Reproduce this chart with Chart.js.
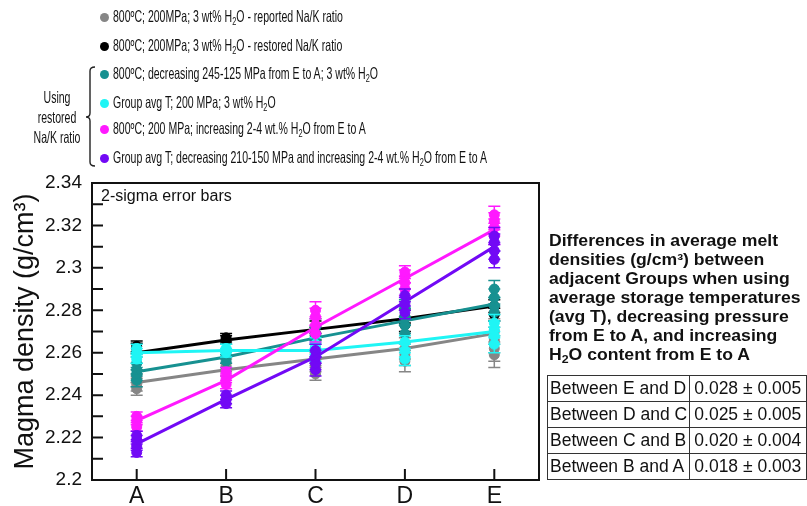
<!DOCTYPE html>
<html>
<head>
<meta charset="utf-8">
<script src="https://cdn.jsdelivr.net/npm/chart.js@4.4.1/dist/chart.umd.min.js"></script>
<style>
  html, body { margin: 0; padding: 0; background: #fff; }
  #wrap { position: relative; width: 807px; height: 506px; overflow: hidden; font-family: "Liberation Sans", Arial, sans-serif; color: #111; }
  #chart { position: absolute; left: 0; top: 0; }
  .lg-row { position: absolute; left: 100px; height: 20px; line-height: 20px; white-space: nowrap; font-size: 16.5px; }
  .lg-dot { display: inline-block; width: 9px; height: 9px; border-radius: 50%; margin-right: 4px; vertical-align: 0px; }
  .lg-text { display: inline-block; transform-origin: left center; }
  .lg-row sub, .note sub { font-size: 0.7em; vertical-align: -0.3em; line-height: 0; }
  .bracket-text { position: absolute; left: 12px; top: 87px; width: 90px; text-align: center; line-height: 20px; font-size: 16.5px; }
  .sigma { position: absolute; left: 101px; top: 187px; font-size: 16px; }
  .note { position: absolute; left: 549px; top: 231px; font-weight: bold; font-size: 16px; line-height: 19px;
          white-space: nowrap; transform-origin: left top; }
  .probe { position: absolute; visibility: hidden; white-space: nowrap; }
  table { position: absolute; left: 547px; top: 375px; border-collapse: collapse; font-size: 17.5px; }
  td { border: 1px solid #333; height: 25px; padding: 0 2px; white-space: nowrap; }
  td:first-child { width: 140px; }
  td:last-child { padding-left: 4px; width: 160px; }
</style>
</head>
<body>
<div id="wrap">
  <canvas id="chart" width="807" height="506"></canvas>
  <div id="legend"></div>
  <svg style="position:absolute;left:0;top:0" width="110" height="180">
    <path d="M95 67 Q90 67 90 71 L90 113 Q90 117 86 117 Q90 117 90 121 L90 162 Q90 166 95 166" fill="none" stroke="#222" stroke-width="1.4"/>
  </svg>
  <div class="bracket-text" id="bracketText">Using<br>restored<br>Na/K ratio</div>
  <div class="sigma">2-sigma error bars</div>
  <div class="note" id="note">Differences in average melt<br>densities (g/cm³) between<br>adjacent Groups when using<br>average storage temperatures<br>(avg T), decreasing pressure<br>from E to A, and increasing<br>H<sub>2</sub>O content from E to A</div>
  <table id="diffs"></table>
</div>
<script>
const groups = ['A', 'B', 'C', 'D', 'E'];
const yTickLabels = [2.2, 2.22, 2.24, 2.26, 2.28, 2.3, 2.32, 2.34];

const seriesNames = [
  '800ºC; 200MPa; 3 wt% H<sub>2</sub>O - reported Na/K ratio',
  '800ºC; 200MPa; 3 wt% H<sub>2</sub>O - restored Na/K ratio',
  '800ºC; decreasing 245-125 MPa from E to A; 3 wt% H<sub>2</sub>O',
  'Group avg T; 200 MPa; 3 wt% H<sub>2</sub>O',
  '800ºC; 200 MPa; increasing 2-4 wt.% H<sub>2</sub>O from E to A',
  'Group avg T; decreasing 210-150 MPa and increasing 2-4 wt.% H<sub>2</sub>O from E to A'
];
const seriesColors = ['#868686', '#000000', '#179191', '#1ff5f5', '#ff19ff', '#7209f5'];

// trend lines through the group averages
const grayLine    = [2.246, 2.252, 2.257, 2.262, 2.269];
const blackLine   = [2.260, 2.266, 2.271, 2.276, 2.282];
const tealLine    = [2.251, 2.258, 2.267, 2.275, 2.283];
const cyanLine    = [2.260, 2.261, 2.261, 2.265, 2.270];
const magentaLine = [2.228, 2.247, 2.272, 2.295, 2.318];
const purpleLine  = [2.217, 2.238, 2.258, 2.284, 2.310];

// individual melt densities per group
const graySamples    = [[2.243, 2.245, 2.247, 2.249], [2.252, 2.254], [2.250, 2.254, 2.257], [2.256, 2.259, 2.262], [2.259, 2.262, 2.266, 2.270]];
const blackSamples   = [[2.262, 2.263], [2.266, 2.267], [2.269, 2.272], [2.273, 2.277], [2.278, 2.282]];
const tealSamples    = [[2.247, 2.250, 2.252, 2.255], [2.256, 2.258, 2.261], [2.262, 2.265, 2.268, 2.272], [2.269, 2.273, 2.277, 2.281], [2.279, 2.282, 2.286, 2.290]];
const cyanSamples    = [[2.257, 2.260, 2.262], [2.260, 2.262], [2.259, 2.262, 2.264], [2.257, 2.261, 2.265], [2.264, 2.268, 2.271, 2.274]];
const magentaSamples = [[2.225, 2.228, 2.230], [2.245, 2.248, 2.251], [2.269, 2.273, 2.277, 2.280], [2.290, 2.293, 2.296, 2.298], [2.315, 2.319, 2.322, 2.325]];
const purpleSamples  = [[2.213, 2.216, 2.219, 2.221], [2.236, 2.238, 2.240], [2.252, 2.255, 2.258, 2.261], [2.279, 2.283, 2.287], [2.304, 2.308, 2.312, 2.315]];

// 2-sigma per group
const grayErr    = [0.003, 0.003, 0.003, 0.005, 0.006];
const blackErr   = [0.0025, 0.002, 0.003, 0.003, 0.003];
const tealErr    = [0.003, 0.003, 0.004, 0.004, 0.004];
const cyanErr    = [0.002, 0.002, 0.003, 0.003, 0.004];
const magentaErr = [0.002, 0.002, 0.004, 0.003, 0.004];
const purpleErr  = [0.002, 0.002, 0.003, 0.003, 0.004];

const diffLabels = ['Between E and D', 'Between D and C', 'Between C and B', 'Between B and A'];
const diffValues = ['0.028 ± 0.005', '0.025 ± 0.005', '0.020 ± 0.004', '0.018 ± 0.003'];

const wrap = document.getElementById('wrap');
function textWidth(text, css) {
  const s = document.createElement('span');
  s.className = 'probe';
  s.style.cssText = css;
  s.textContent = text;
  wrap.appendChild(s);
  const w = s.getBoundingClientRect().width;
  s.remove();
  return w;
}

// legend, set in a condensed face
const legendTops = [6, 35, 63, 92, 118, 147];
document.getElementById('legend').innerHTML = seriesNames.map((n, i) =>
  `<div class="lg-row" style="top:${legendTops[i]}px"><span class="lg-dot" style="background:${seriesColors[i]}"></span><span class="lg-text">${n}</span></div>`
).join('');
const texts = [...document.querySelectorAll('.lg-text')];
const squeeze = 374 / texts[texts.length - 1].getBoundingClientRect().width;
texts.forEach(t => { t.style.transform = `scaleX(${squeeze})`; });
document.getElementById('bracketText').style.transform = `scaleX(${squeeze})`;

// bold note is set a little wide
const noteW = textWidth('Differences in average melt', 'font-weight:bold;font-size:16px');
document.getElementById('note').style.transform = `scaleX(${229 / noteW})`;

// differences table
document.getElementById('diffs').innerHTML = diffLabels.map((l, i) =>
  `<tr><td>${l}</td><td>${diffValues[i]}</td></tr>`).join('');

const lines = [grayLine, blackLine, tealLine, cyanLine, magentaLine, purpleLine];
const samples = [graySamples, blackSamples, tealSamples, cyanSamples, magentaSamples, purpleSamples];
const errs = [grayErr, blackErr, tealErr, cyanErr, magentaErr, purpleErr];

const datasets = [];
lines.forEach((line, s) => {
  const color = seriesColors[s];
  const base = (lines.length - s) * 2; // gray at the bottom, purple on top
  datasets.push({
    type: 'line',
    data: samples[s].flatMap((vals, i) => vals.map(v => ({ x: groups[i], y: v }))),
    errors: samples[s].flatMap((vals, i) => vals.map(() => errs[s][i])),
    showLine: false,
    pointRadius: 5,
    pointBackgroundColor: color,
    pointBorderColor: color,
    order: base + 1
  });
  datasets.push({
    type: 'line',
    data: line,
    borderColor: color,
    borderWidth: 3,
    pointRadius: 0,
    order: base
  });
});

const errorBars = {
  id: 'errorBars',
  beforeDatasetDraw(chart, args) {
    const ds = chart.data.datasets[args.index];
    if (!ds.errors) return;
    const ctx = chart.ctx, y = chart.scales.y;
    ctx.save();
    ctx.strokeStyle = ds.pointBorderColor;
    ctx.lineWidth = 1.5;
    args.meta.data.forEach((pt, i) => {
      const v = ds.data[i].y, e = ds.errors[i];
      const t = y.getPixelForValue(v + e), b = y.getPixelForValue(v - e);
      ctx.beginPath();
      ctx.moveTo(pt.x, t); ctx.lineTo(pt.x, b);
      ctx.moveTo(pt.x - 6, t); ctx.lineTo(pt.x + 6, t);
      ctx.moveTo(pt.x - 6, b); ctx.lineTo(pt.x + 6, b);
      ctx.stroke();
    });
    ctx.restore();
  }
};

// plot frame with inward tick marks
const frame = {
  id: 'frame',
  afterDatasetsDraw(chart) {
    const { ctx, chartArea: a, scales } = chart;
    ctx.save();
    ctx.strokeStyle = '#111';
    ctx.lineWidth = 2;
    ctx.strokeRect(a.left, a.top, a.right - a.left, a.bottom - a.top);
    ctx.beginPath();
    for (let k = 0; k <= 14; k++) {
      const py = scales.y.getPixelForValue(2.2 + k * 0.01);
      ctx.moveTo(a.left, py); ctx.lineTo(a.left + 11, py);
    }
    groups.forEach((g, i) => {
      const px = scales.x.getPixelForValue(i);
      ctx.moveTo(px, a.bottom); ctx.lineTo(px, a.bottom - 11);
    });
    ctx.stroke();
    ctx.restore();
  }
};

new Chart(document.getElementById('chart'), {
  type: 'line',
  data: { labels: groups, datasets },
  options: {
    responsive: false,
    animation: false,
    devicePixelRatio: 1,
    layout: { padding: { top: 183, right: 268, left: 0, bottom: 0 } },
    plugins: { legend: { display: false }, tooltip: { enabled: false } },
    scales: {
      x: {
        offset: true,
        grid: { display: false, drawTicks: false },
        border: { display: false },
        ticks: { color: '#111', font: { size: 23, family: 'Liberation Sans' }, padding: 3 },
        afterFit(scale) { scale.height = 26; }
      },
      y: {
        min: 2.2,
        max: 2.34,
        grid: { display: false, drawTicks: false },
        border: { display: false },
        afterBuildTicks(scale) { scale.ticks = yTickLabels.map(v => ({ value: v })); },
        ticks: {
          color: '#111',
          font: { size: 19, family: 'Liberation Sans' },
          padding: 10,
          callback: v => String(+v.toFixed(2))
        },
        title: {
          display: true,
          text: 'Magma density (g/cm³)',
          color: '#111',
          font: { size: 27, family: 'Liberation Sans' },
          padding: { top: 9, bottom: 0 }
        },
        afterFit(scale) { scale.width = 92; }
      }
    }
  },
  plugins: [errorBars, frame]
});
</script>
</body>
</html>
